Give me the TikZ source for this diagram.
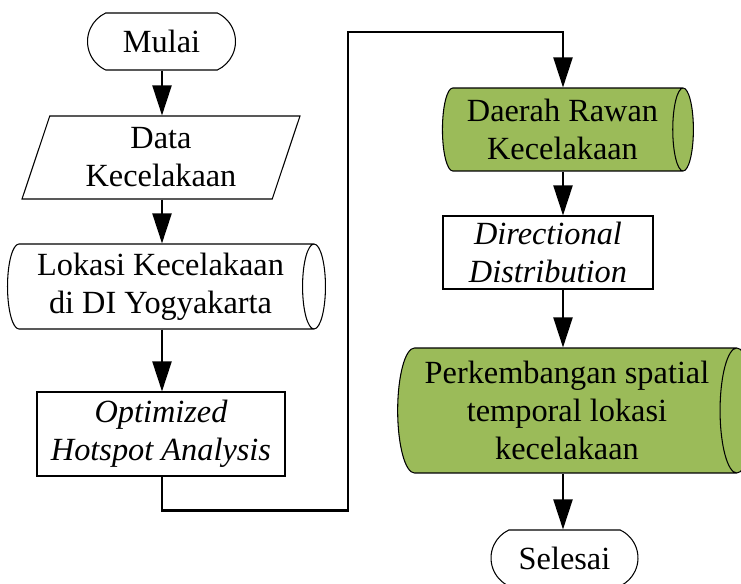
\documentclass[tikz,border=0pt]{standalone}
\usepackage{fontspec}
\setmainfont{Liberation Serif}
\usetikzlibrary{arrows.meta,shapes.geometric,shapes.misc}
\definecolor{olivegreen}{RGB}{155,187,89}
\newcommand{\flowfont}{\fontsize{18.4pt}{21.6pt}\selectfont}

\begin{document}
\begin{tikzpicture}[x=0.02cm,y=-0.02cm,>={Triangle[length=0.6cm,width=0.38cm]},font=\flowfont,
  shapebase/.style={draw,line width=0.6pt,inner sep=0pt,align=center},
  terminal/.style={shapebase,rounded rectangle,rounded rectangle arc length=130,minimum width=2.96cm,minimum height=1.14cm},
  dataio/.style={shapebase,trapezium,trapezium left angle=65,trapezium right angle=115,trapezium stretches body},
  stored/.style={shapebase,cylinder,aspect=0.34},
  process/.style={shapebase,rectangle,font=\flowfont\itshape},
  flow/.style={->,line width=1.2pt}]
\useasboundingbox (0,0) rectangle (741,584);
% kolom kiri
\node[terminal] (mulai) at (161.5,41.5) {Mulai};
\node[dataio,minimum width=5.56cm,minimum height=1.66cm] (data) at (161,157.5) {Data\\Kecelakaan};
\node[stored,minimum height=6.36cm,minimum width=1.7cm] (lokasi) at (160.5,286.5) {Lokasi Kecelakaan\\di DI Yogyakarta};
\node[process,minimum width=4.96cm,minimum height=1.68cm] (hotspot) at (161,434) {Optimized\\Hotspot Analysis};
% kolom kanan
\node[stored,fill=olivegreen,minimum height=5.02cm,minimum width=1.66cm] (rawan) at (562.5,129.5) {Daerah Rawan\\Kecelakaan};
\node[process,minimum width=4.2cm,minimum height=1.46cm] (arah) at (548,252.5) {Directional\\Distribution};
\node[stored,fill=olivegreen,minimum height=7.12cm,minimum width=2.5cm] (spatial) at (567,410.5) {Perkembangan spatial\\temporal lokasi\\kecelakaan};
\node[terminal,minimum width=2.94cm,minimum height=1.12cm] (selesai) at (564.5,558) {Selesai};
% garis alur
\coordinate (lcol) at (162,0);
\coordinate (rcol) at (563,0);
\coordinate (bend) at (348,32);
\draw[flow] (mulai.south -| lcol) -- (data.north -| lcol);
\draw[flow] (data.south -| lcol) -- (lokasi.north -| lcol);
\draw[flow] (lokasi.south -| lcol) -- (hotspot.north -| lcol);
\draw[flow] (hotspot.south -| lcol) -- ++(0,34) -| (bend) -| (rawan.north -| rcol);
\draw[flow] (rawan.south -| rcol) -- (arah.north -| rcol);
\draw[flow] (arah.south -| rcol) -- (spatial.north -| rcol);
\draw[flow] (spatial.south -| rcol) -- (selesai.north -| rcol);
\end{tikzpicture}
\end{document}
